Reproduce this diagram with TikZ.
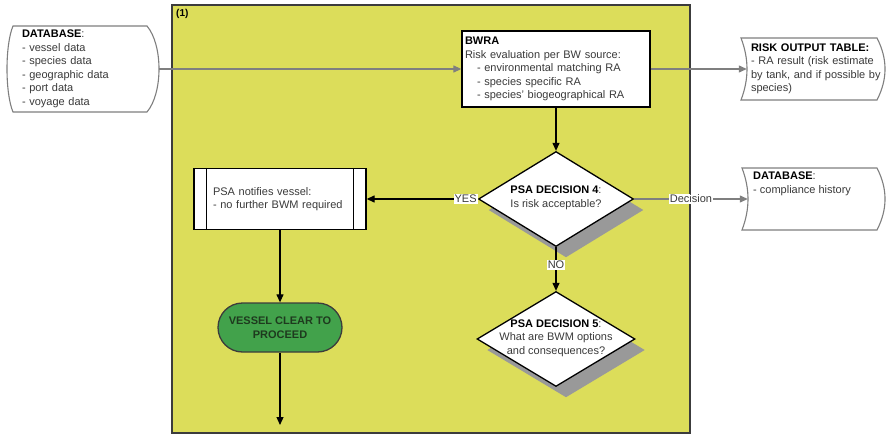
\documentclass[tikz,border=0pt]{standalone}
\usepackage{fontspec}
\setmainfont{Liberation Sans}
\usetikzlibrary{arrows.meta,shapes.geometric,shadows}

\definecolor{zone}{HTML}{DCDD5A}
\definecolor{zoneedge}{HTML}{3C3C3C}
\definecolor{flowgray}{HTML}{7F7F7F}
\definecolor{txt}{HTML}{3A3A3A}
\definecolor{okgreen}{HTML}{42A24B}
\definecolor{okdark}{HTML}{1E3A1E}
\definecolor{shade}{HTML}{999999}

\newcommand\headword[1]{\textbf{\color{black}#1}}

\tikzset{
  basefont/.style={font=\fontsize{11}{13.5}\selectfont},
  every node/.style={basefont, text=txt},
  store/.style={draw=flowgray, line width=1.1pt, fill=white},
  textbox/.style={align=left, inner ysep=0pt},
  procbox/.style={draw=black, line width=1.3pt, fill=white, align=left, inner ysep=0pt},
  decision/.style={diamond, draw=black, line width=1.3pt, fill=white, inner sep=0pt,
    drop shadow={shadow xshift=10pt, shadow yshift=-11pt, fill=shade, opacity=1}},
  arr/.style={-{Triangle[length=8pt,width=7pt]}, line width=1.2pt, draw=black},
  garr/.style={-{Triangle[length=8pt,width=7pt]}, line width=1.2pt, draw=flowgray},
  tag/.style={fill=white, inner sep=1pt, text=txt},
}

\begin{document}
\begin{tikzpicture}[x=1pt,y=-1pt]
\useasboundingbox (0,0) rectangle (889,436);

% process zone
\node[draw=zoneedge, line width=1.4pt, fill=zone, minimum width=518pt,
      minimum height=428pt, inner sep=0pt] (zone) at (431,219) {};
\node[anchor=north west, inner sep=0pt, font=\bfseries\fontsize{10}{12}\selectfont,
      text=black] (zonetag) at (176,9) {(1)};

% data store outlines
\draw[store] (13,26) -- (147,26) .. controls (163,45) and (163,93) .. (147,112)
  -- (13,112) .. controls (5,93) and (5,45) .. (13,26) -- cycle;
\draw[store] (741,38) -- (877,38) .. controls (887.7,59) and (887.7,79) .. (877,100)
  -- (741,100) .. controls (749,79) and (749,59) .. (741,38) -- cycle;
\draw[store] (742,168) -- (877,168) .. controls (887.7,189) and (887.7,209) .. (877,230)
  -- (742,230) .. controls (750,209) and (750,189) .. (742,168) -- cycle;

% data stores
\node[textbox, text width=122pt, inner xsep=15pt, minimum height=86pt] (db1) at (83,69)
  {\headword{DATABASE}:\\- vessel data\\- species data\\- geographic data\\- port data\\- voyage data};
\node[textbox, text width=136pt, inner xsep=4pt, minimum height=62pt] (rot) at (819,69)
  {\headword{RISK OUTPUT TABLE:}\\- RA result (risk estimate\\by tank, and if possible by\\species)};
\node[minimum width=137pt, minimum height=62pt, inner sep=0pt] (db2) at (816.5,199) {};
\node[textbox, anchor=north west, inner sep=0pt] (db2text) at (753,172)
  {\headword{DATABASE}:\\- compliance history};

% risk assessment
\node[procbox, text width=182pt, inner xsep=3pt, minimum height=76pt] (bwra) at (556,69)
  {\headword{BWRA}\\Risk evaluation per BW source:\\
   \hspace*{12pt}- environmental matching RA\\
   \hspace*{12pt}- species specific RA\\
   \hspace*{12pt}- species' biogeographical RA};

% decisions
\node[decision, minimum width=155pt, minimum height=95pt] (d4) at (556,199) {};
\node[align=center, inner sep=0pt] (d4text) at (556,198)
  {\headword{PSA DECISION 4}:\\Is risk acceptable?};
\node[decision, minimum width=158pt, minimum height=95pt] (d5) at (556,339) {};
\node[align=center, inner sep=0pt] (d5text) at (556,338)
  {\headword{PSA DECISION 5}:\\What are BWM options\\and consequences?};

% notification (predefined process)
\node[procbox, text width=134pt, inner xsep=19pt, minimum height=61pt] (psa) at (280,199)
  {PSA notifies vessel:\\- no further BWM required};
\draw[line width=1.3pt] ([xshift=13pt]psa.north west) -- ([xshift=13pt]psa.south west);
\draw[line width=1.3pt] ([xshift=-13pt]psa.north east) -- ([xshift=-13pt]psa.south east);

% terminal
\node[draw=zoneedge, line width=1.3pt, fill=okgreen, rounded corners=24.5pt,
      minimum width=124pt, minimum height=49pt, align=center, inner sep=0pt,
      font=\bfseries\fontsize{11}{14.5}\selectfont, text=okdark] (clear) at (280,327.5)
  {VESSEL CLEAR TO\\PROCEED};
\coordinate (out) at (280,425);

% connectors
\draw[garr] (db1.east) -- (bwra.west);
\draw[garr] (bwra.east) -- (rot.west);
\draw[arr] (bwra.south) -- (d4.north);
\draw[arr] (d4.west) -- node[tag, pos=0.11] (yes) {YES} (psa.east);
\draw[garr] (d4.east) -- node[tag, pos=0.5] (dec) {Decision} (db2.west);
\draw[arr] (d4.south) -- node[tag, pos=0.4] (no) {NO} (d5.north);
\draw[arr] (psa.south) -- (clear.north);
\draw[arr] (clear.south) -- (out);
\end{tikzpicture}
\end{document}
